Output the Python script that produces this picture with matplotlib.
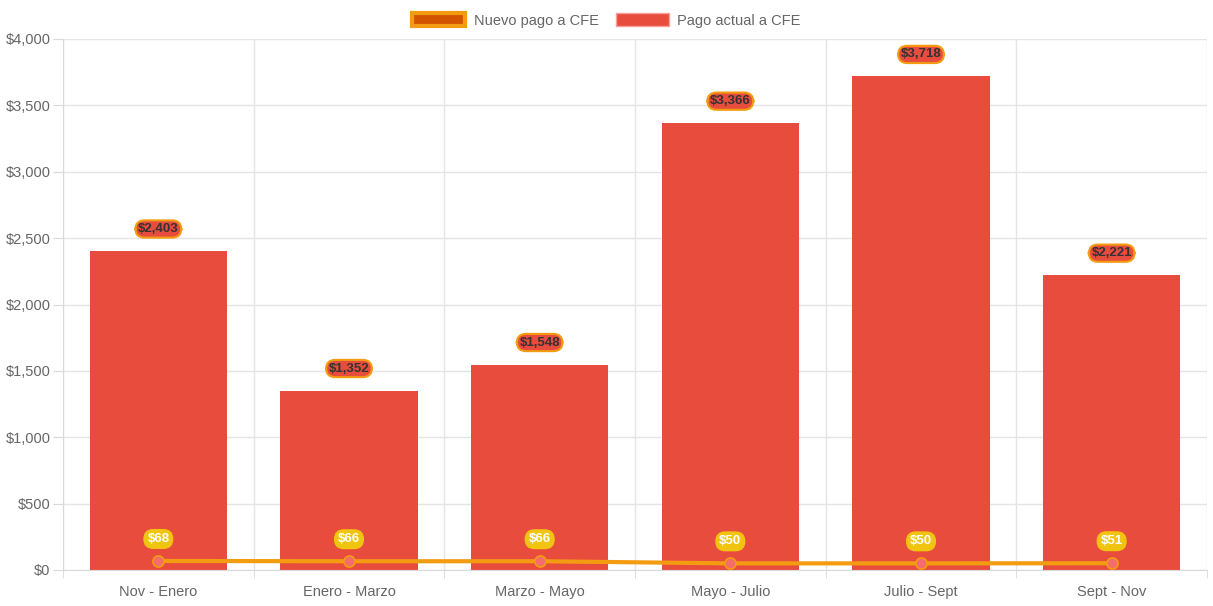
import numpy as np
import matplotlib.pyplot as plt
from matplotlib.patches import Patch

# data
periodos = ['Nov - Enero', 'Enero - Marzo', 'Marzo - Mayo', 'Mayo - Julio', 'Julio - Sept', 'Sept - Nov']
pago_actual = [2403, 1352, 1548, 3366, 3718, 2221]
nuevo_pago = [68, 66, 66, 50, 50, 51]
y_ticks = [0, 500, 1000, 1500, 2000, 2500, 3000, 3500, 4000]

plt.rcParams['font.family'] = ['Liberation Sans', 'DejaVu Sans']

fig = plt.figure(figsize=(12.13, 6.06), dpi=100)
ax = fig.add_axes([63 / 1213, 1 - 570 / 606, (1207 - 63) / 1213, (570 - 39) / 606])

x = np.arange(len(periodos))
ax.bar(x, pago_actual, width=0.72, color='#e74c3c', zorder=2)
ax.plot(x, nuevo_pago, color='#f39c12', linewidth=3, zorder=3,
        marker='o', markersize=8, markerfacecolor='#f56c6c', markeredgecolor='#f39c12', markeredgewidth=1.2)

for xi, v in zip(x, pago_actual):
    ax.annotate(f'${v:,}', (xi, v), xytext=(0, 22), textcoords='offset pixels',
                ha='center', va='center', fontsize=9.5, fontweight='bold', color='#333333', zorder=5,
                bbox=dict(boxstyle='round,pad=0.2,rounding_size=0.7', fc='#e74c3c', ec='#f39c12', lw=1.5))
for xi, v in zip(x, nuevo_pago):
    ax.annotate(f'${v}', (xi, v), xytext=(0, 22), textcoords='offset pixels',
                ha='center', va='center', fontsize=9.5, fontweight='bold', color='white', zorder=5,
                bbox=dict(boxstyle='round,pad=0.25,rounding_size=0.7', fc='#f1c40f', ec='#f1c40f', lw=1))

ax.set_xlim(-0.5, len(periodos) - 0.5)
ax.set_ylim(0, 4000)
ax.set_yticks(y_ticks)
ax.set_yticklabels([f'${t:,}' for t in y_ticks])
ax.set_xticks(x)
ax.set_xticklabels(periodos)
ax.set_xticks(np.arange(-0.5, len(periodos), 1), minor=True)

ax.grid(axis='y', color='#e5e5e5', linewidth=1, zorder=0)
ax.grid(axis='x', which='minor', color='#e5e5e5', linewidth=1, zorder=0)
ax.tick_params(axis='x', which='major', length=0, labelsize=10.5, labelcolor='#666666', pad=11)
ax.tick_params(axis='x', which='minor', length=6, color='#d9d9d9')
ax.tick_params(axis='y', length=7, color='#d9d9d9', labelsize=10.5, labelcolor='#666666', pad=2)
for s in ['top', 'right']:
    ax.spines[s].set_visible(False)
ax.spines['left'].set_color('#d9d9d9')
ax.spines['bottom'].set_color('#d9d9d9')

handles = [Patch(facecolor='#d35400', edgecolor='#f39c12', linewidth=3, label='Nuevo pago a CFE'),
           Patch(facecolor='#e74c3c', edgecolor='#f5a09a', linewidth=1, label='Pago actual a CFE')]
fig.legend(handles=handles, loc='upper center', bbox_to_anchor=(0.5, 1.0), ncol=2, frameon=False,
           fontsize=10.5, labelcolor='#666666', handlelength=3.6, handleheight=1.0, columnspacing=1.2,
           handletextpad=0.6)

fig.savefig('out.png', dpi=100)
